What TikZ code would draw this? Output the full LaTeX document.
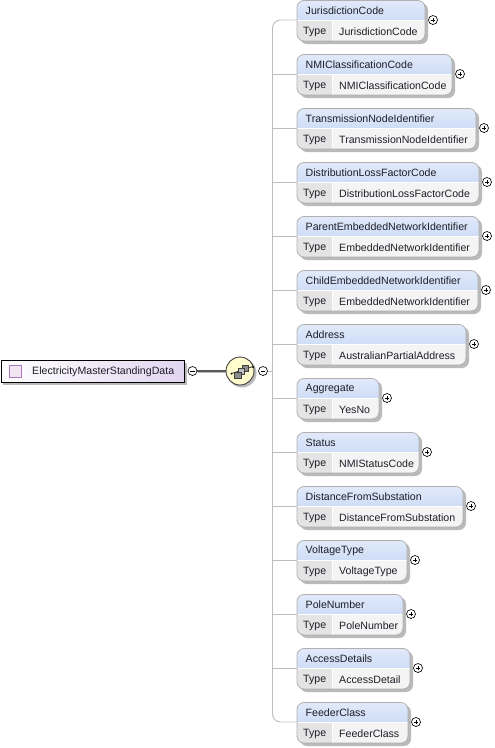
\documentclass[tikz,border=0pt]{standalone}
\usepackage{fontspec}
\setmainfont{Liberation Sans}
\definecolor{hdr}{RGB}{205,220,246}
\definecolor{bdr}{RGB}{176,176,176}
\definecolor{cellg}{RGB}{228,228,228}
\definecolor{cellw}{RGB}{244,244,244}
\definecolor{shad}{RGB}{186,186,186}
\definecolor{line}{RGB}{190,190,190}
\definecolor{txt}{RGB}{30,30,40}
\definecolor{rootend}{RGB}{226,214,240}
\tikzset{
  lbl/.style={anchor=west,inner sep=0pt,text=txt,font=\fontsize{10.6}{12}\selectfont},
  plusminus/.style={circle,draw=black,fill=white,line width=.65pt,minimum size=9pt,inner sep=0pt},
  conn/.style={draw=line,line width=.9pt},
  iconbox/.style={draw=black!75,fill=black!45,line width=.7pt},
}
% #1 name, #2 top, #3 right, #4 title, #5 type
\newcommand{\elem}[5]{%
  \fill[shad,rounded corners=7pt] (300,#2+3) rectangle (#3+3,#2+44);
  \begin{scope}
    \clip[rounded corners=7pt] (297,#2+.5) rectangle (#3,#2+41);
    \shade[top color=hdr!60!white,bottom color=hdr] (297,#2) rectangle (#3,#2+21);
    \fill[cellg] (297,#2+21) rectangle (333,#2+41);
    \fill[cellw] (333,#2+21) rectangle (#3,#2+41);
    \draw[white,line width=.8pt] (297,#2+20.5) -- (#3,#2+20.5);
    \draw[white,line width=.8pt] (332.7,#2+21) -- (332.7,#2+41);
  \end{scope}
  \draw[bdr,line width=.8pt,rounded corners=7pt] (297,#2+.5) rectangle (#3,#2+41);
  \node[lbl] (t#1) at (305.5,#2+11) {#4};
  \node[lbl] (k#1) at (303,#2+31.7) {Type};
  \node[lbl] (v#1) at (339,#2+31.7) {#5};
  \coordinate (w#1) at (297,#2+20);
  \node[plusminus] (p#1) at (#3+8,#2+20) {};
  \draw[line width=.65pt] ([xshift=-2.4]p#1.center) -- ([xshift=2.4]p#1.center) ([yshift=-2.4]p#1.center) -- ([yshift=2.4]p#1.center);
}
\begin{document}
\begin{tikzpicture}[x=1pt,y=-1pt]
\useasboundingbox (0,0) rectangle (495,748);
\fill[white] (0,0) rectangle (495,748);
\coordinate (trunktop) at (272.5,20);
\coordinate (trunkbot) at (272.5,722);
\coordinate (trunkmid) at (272.5,371);
\elem{1}{0}{425}{JurisdictionCode}{JurisdictionCode}
\elem{2}{54}{452}{NMIClassificationCode}{NMIClassificationCode}
\elem{3}{108}{476}{TransmissionNodeIdentifier}{TransmissionNodeIdentifier}
\elem{4}{162}{479}{DistributionLossFactorCode}{DistributionLossFactorCode}
\elem{5}{216}{479}{ParentEmbeddedNetworkIdentifier}{EmbeddedNetworkIdentifier}
\elem{6}{270}{478}{ChildEmbeddedNetworkIdentifier}{EmbeddedNetworkIdentifier}
\elem{7}{324}{466}{Address}{AustralianPartialAddress}
\elem{8}{378}{379}{Aggregate}{YesNo}
\elem{9}{432}{419}{Status}{NMIStatusCode}
\elem{10}{486}{463}{DistanceFromSubstation}{DistanceFromSubstation}
\elem{11}{540}{407}{VoltageType}{VoltageType}
\elem{12}{594}{403}{PoleNumber}{PoleNumber}
\elem{13}{648}{410}{AccessDetails}{AccessDetail}
\elem{14}{702}{408}{FeederClass}{FeederClass}
\draw[conn,rounded corners=8pt] (w1) -- (trunktop) -- (trunkbot) -- (w14);
\foreach \i in {2,...,13} {\draw[conn] (trunktop |- w\i) -- (w\i);}
% root
\fill[shad] (3,363) rectangle (187,385);
\node[draw=black,line width=.9pt,shade,left color=white,right color=rootend,inner sep=0pt,minimum width=183pt,minimum height=22pt,anchor=north west] (root) at (.5,360) {};
\node[draw={rgb,255:red,170;green,120;blue,190},line width=.8pt,fill=violet!10,minimum size=12pt,inner sep=0pt] (sq) at (15.5,371) {};
\node[lbl] (rootl) at (32,371.5) {ElectricityMasterStandingData};
\draw[draw=shad,line width=1.2pt] (198,372.5) -- (226,372.5);
\fill[shad] (242,373) circle (14.5);
\node[circle,draw=black!75,line width=.9pt,fill={rgb,255:red,255;green,252;blue,205},minimum size=28pt,inner sep=0pt] (seq) at (240,371) {};
\node[plusminus] (m1) at (192.5,371) {};
\draw[line width=.65pt] ([xshift=-2.4]m1.center) -- ([xshift=2.4]m1.center);
\node[plusminus] (m2) at (263,371) {};
\draw[line width=.65pt] ([xshift=-2.4]m2.center) -- ([xshift=2.4]m2.center);
\draw[draw=black!65,line width=1.2pt] (m1) -- (seq);
\draw[conn] (m2) -- (trunkmid);
% sequence icon
\draw[line width=.8pt,draw=black!80] (231.5,373.5) -- (253,366.5);
\fill[black] (231.5,373.5) circle (1) (253,367) circle (1);
\draw[iconbox] (242,365) rectangle +(6.5,6);
\draw[iconbox,fill=black!25] (238,368) rectangle +(6.5,6);
\draw[iconbox] (234.5,372) rectangle +(6.5,6);
\end{tikzpicture}
\end{document}
